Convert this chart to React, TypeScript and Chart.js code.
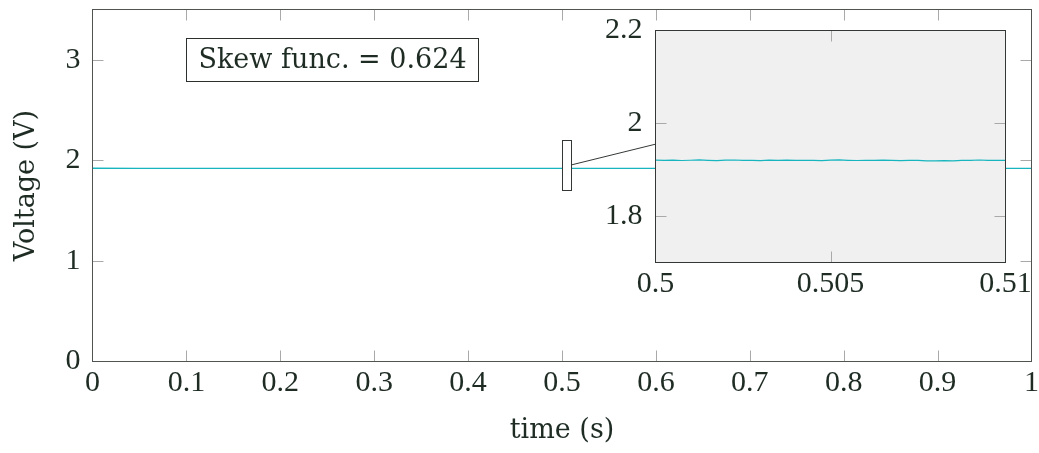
import React, { useEffect, useRef } from 'react';
import { Chart, registerables } from 'chart.js';

Chart.register(...registerables);

const TICK_FONT = "'Liberation Serif', 'DejaVu Serif', serif";
const TEXT_FONT = "'DejaVu Serif', 'Liberation Serif', serif";
const TEXT_COLOR = '#1e2c24';
const LINE_COLOR = '#17b5be';
const FRAME_COLOR = '#4f5451';
const TICK_COLOR = '#a9a9a9';

// ---- data ----
const time = [
  0, 0.05, 0.1, 0.15, 0.2, 0.25, 0.3, 0.35, 0.4, 0.45,
  0.5, 0.50025, 0.5005, 0.50075, 0.501, 0.50125, 0.5015, 0.50175, 0.502, 0.50225,
  0.5025, 0.50275, 0.503, 0.50325, 0.5035, 0.50375, 0.504, 0.50425, 0.5045, 0.50475,
  0.505, 0.50525, 0.5055, 0.50575, 0.506, 0.50625, 0.5065, 0.50675, 0.507, 0.50725,
  0.5075, 0.50775, 0.508, 0.50825, 0.5085, 0.50875, 0.509, 0.50925, 0.5095, 0.50975,
  0.51, 0.55, 0.6, 0.65, 0.7, 0.75, 0.8, 0.85, 0.9, 0.95, 1,
];
const voltage = [
  1.9215, 1.9205, 1.9212, 1.9201, 1.9208, 1.9203, 1.921, 1.9199, 1.9206, 1.9202,
  1.9205, 1.92, 1.9208, 1.9198, 1.9204, 1.921, 1.9201, 1.9196, 1.9205, 1.9209,
  1.92, 1.9203, 1.9197, 1.9206, 1.9202, 1.9208, 1.9199, 1.9204, 1.9201, 1.9197,
  1.9205, 1.921, 1.9202, 1.9198, 1.9204, 1.92, 1.9207, 1.9201, 1.9196, 1.9203,
  1.9199, 1.9192, 1.919, 1.9194, 1.9192, 1.9199, 1.9203, 1.9209, 1.9201, 1.9204,
  1.92, 1.9206, 1.9201, 1.9204, 1.9199, 1.9207, 1.9202, 1.9205, 1.92, 1.9204, 1.9202,
];

const xTicks = [0, 0.1, 0.2, 0.3, 0.4, 0.5, 0.6, 0.7, 0.8, 0.9, 1];
const yTicks = [0, 1, 2, 3];
const xRange = [0, 1];
const yRange = [0, 3.5];

const insetXTicks = [0.5, 0.505, 0.51];
const insetYTicks = [1.8, 2, 2.2];
const zoomWindow = [0.5, 0.51];
const zoomRange = [1.7, 2.2];
const connectorLevel = 1.955;

const skewLabel = 'Skew func. = 0.624';
const skewAnchor = [0.1, 3];

const xTitle = 'time (s)';
const yTitle = 'Voltage (V)';

// ---- layout (pixels) ----
const W = 1039;
const H = 453;
const INSET_LEFT = 540;
const INSET_TOP = 15;
const INSET_W = 495;
const INSET_H = 295;

const tickFont = { family: TICK_FONT, size: 30 };
const titleFont = { family: TEXT_FONT, size: 27 };

function framePlugin(xs: number[], ys: number[], len: number, frame: string, bg?: string) {
  return {
    id: 'frameTicks',
    beforeDatasetsDraw(chart: any) {
      if (!bg) return;
      const { ctx, chartArea: a } = chart;
      ctx.save();
      ctx.fillStyle = bg;
      ctx.fillRect(a.left, a.top, a.right - a.left, a.bottom - a.top);
      ctx.restore();
    },
    afterDatasetsDraw(chart: any) {
      const { ctx, chartArea: a, scales } = chart;
      ctx.save();
      ctx.strokeStyle = TICK_COLOR;
      ctx.lineWidth = 1;
      ctx.beginPath();
      xs.forEach((v) => {
        const px = Math.round(scales.x.getPixelForValue(v)) + 0.5;
        ctx.moveTo(px, a.bottom);
        ctx.lineTo(px, a.bottom - len);
        ctx.moveTo(px, a.top);
        ctx.lineTo(px, a.top + len);
      });
      ys.forEach((v) => {
        const py = Math.round(scales.y.getPixelForValue(v)) + 0.5;
        ctx.moveTo(a.left, py);
        ctx.lineTo(a.left + len, py);
        ctx.moveTo(a.right, py);
        ctx.lineTo(a.right - len, py);
      });
      ctx.stroke();
      ctx.strokeStyle = frame;
      ctx.strokeRect(a.left, a.top, a.right - a.left, a.bottom - a.top);
      ctx.restore();
    },
  };
}

function xScale(min: number, max: number, ticks: number[], height: number, title?: string) {
  return {
    type: 'linear',
    min,
    max,
    grid: { display: false, drawTicks: false },
    border: { display: false },
    afterBuildTicks: (s: any) => {
      s.ticks = ticks.map((v) => ({ value: v }));
    },
    afterFit: (s: any) => {
      s.height = height;
      s.paddingLeft = 0;
      s.paddingRight = 0;
    },
    ticks: {
      font: tickFont,
      color: TEXT_COLOR,
      padding: 4,
      maxRotation: 0,
      autoSkip: false,
      callback: (v: any) => String(v),
    },
    title: title
      ? {
          display: true,
          text: title,
          font: titleFont,
          color: TEXT_COLOR,
          padding: { top: 0, bottom: 6 },
        }
      : { display: false },
  };
}

function yScale(min: number, max: number, ticks: number[], width: number, pad: number, title?: string) {
  return {
    type: 'linear',
    min,
    max,
    grid: { display: false, drawTicks: false },
    border: { display: false },
    afterBuildTicks: (s: any) => {
      s.ticks = ticks.map((v) => ({ value: v }));
    },
    afterFit: (s: any) => {
      s.width = width;
      s.paddingTop = 0;
      s.paddingBottom = 0;
    },
    ticks: {
      font: tickFont,
      color: TEXT_COLOR,
      padding: pad,
      autoSkip: false,
      callback: (v: any) => String(v),
    },
    title: title
      ? {
          display: true,
          text: title,
          font: titleFont,
          color: TEXT_COLOR,
          padding: { top: 11, bottom: 0 },
        }
      : { display: false },
  };
}

export default function App() {
  const mainRef = useRef<HTMLCanvasElement>(null);
  const insetRef = useRef<HTMLCanvasElement>(null);

  useEffect(() => {
    const points = time.map((t, i) => ({ x: t, y: voltage[i] }));

    const inset = new Chart(insetRef.current!, {
      type: 'line',
      data: {
        datasets: [
          {
            data: points,
            borderColor: LINE_COLOR,
            borderWidth: 1.2,
            pointRadius: 0,
            tension: 0,
          },
        ],
      },
      options: {
        animation: false,
        responsive: false,
        events: [],
        layout: { padding: { top: 15.5, right: 29.5, left: 0, bottom: 0 } },
        plugins: { legend: { display: false }, tooltip: { enabled: false } },
        scales: {
          x: xScale(zoomWindow[0], zoomWindow[1], insetXTicks, 47.5) as any,
          y: yScale(zoomRange[0], zoomRange[1], insetYTicks, 115.5, 13) as any,
        },
      },
      plugins: [framePlugin([0.505], [1.8, 2], 11, '#333836', '#f0f0f0')],
    });

    const overlay = {
      id: 'overlay',
      afterDatasetsDraw(chart: any) {
        const { ctx, scales } = chart;
        const x0 = scales.x.getPixelForValue(zoomWindow[0]);
        const x1 = scales.x.getPixelForValue(zoomWindow[1]);
        const y0 = scales.y.getPixelForValue(zoomRange[1]);
        const y1 = scales.y.getPixelForValue(zoomRange[0]);
        ctx.save();
        ctx.lineWidth = 1;
        ctx.strokeStyle = '#333836';
        ctx.fillStyle = '#ffffff';
        const rx = Math.round(x0) + 0.5;
        const ry = Math.round(y0) + 0.5;
        const rw = Math.round(x1 - x0);
        const rh = Math.round(y1 - y0);
        ctx.fillRect(rx, ry, rw, rh);
        ctx.strokeRect(rx, ry, rw, rh);
        // connector
        const ia = inset.chartArea;
        const cy0 = scales.y.getPixelForValue(connectorLevel);
        const cy1 = inset.scales.y.getPixelForValue(connectorLevel) + INSET_TOP;
        ctx.beginPath();
        ctx.moveTo(rx + rw, cy0);
        ctx.lineTo(ia.left + INSET_LEFT, cy1);
        ctx.stroke();
        // skew label box
        ctx.font = `27px ${TEXT_FONT}`;
        const tw = ctx.measureText(skewLabel).width;
        const bx = Math.round(scales.x.getPixelForValue(skewAnchor[0])) + 0.5;
        const cy = scales.y.getPixelForValue(skewAnchor[1]);
        const bh = 43;
        const by = Math.round(cy - bh / 2) + 0.5;
        const bw = Math.round(tw + 24);
        ctx.fillStyle = '#ffffff';
        ctx.fillRect(bx, by, bw, bh);
        ctx.strokeStyle = '#2b302d';
        ctx.strokeRect(bx, by, bw, bh);
        ctx.fillStyle = TEXT_COLOR;
        ctx.textBaseline = 'middle';
        ctx.textAlign = 'left';
        ctx.fillText(skewLabel, bx + 12, cy + 1);
        ctx.restore();
      },
    };

    const main = new Chart(mainRef.current!, {
      type: 'line',
      data: {
        datasets: [
          {
            data: points,
            borderColor: LINE_COLOR,
            borderWidth: 1.3,
            pointRadius: 0,
            tension: 0,
          },
        ],
      },
      options: {
        animation: false,
        responsive: false,
        events: [],
        layout: { padding: { top: 9.5, right: 7.5, left: 0, bottom: 0 } },
        plugins: { legend: { display: false }, tooltip: { enabled: false } },
        scales: {
          x: xScale(xRange[0], xRange[1], xTicks, 91.5, xTitle) as any,
          y: yScale(yRange[0], yRange[1], yTicks, 92.5, 12, yTitle) as any,
        },
      },
      plugins: [framePlugin([0.1, 0.2, 0.3, 0.4, 0.5, 0.6, 0.7, 0.8, 0.9], [1, 2, 3], 11, FRAME_COLOR), overlay],
    });

    return () => {
      main.destroy();
      inset.destroy();
    };
  }, []);

  return (
    <div style={{ position: 'absolute', left: 0, top: 0, width: W, height: H, background: '#fff' }}>
      <canvas ref={mainRef} width={W} height={H} style={{ position: 'absolute', left: 0, top: 0 }} />
      <canvas
        ref={insetRef}
        width={INSET_W}
        height={INSET_H}
        style={{ position: 'absolute', left: INSET_LEFT, top: INSET_TOP }}
      />
    </div>
  );
}
